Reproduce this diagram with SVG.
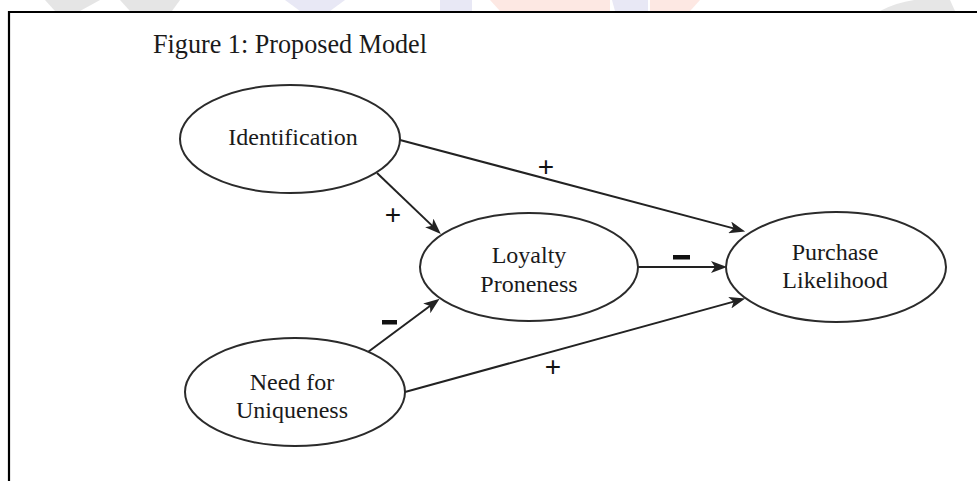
<svg xmlns="http://www.w3.org/2000/svg" width="977" height="481" viewBox="0 0 977 481">
<defs>
<style>
.node ellipse{fill:#fff;stroke:#2b2b2b;stroke-width:2}
.lbl{font-family:"Liberation Serif","Times New Roman",serif;font-size:24px;fill:#1a1a1a;text-anchor:middle}
.conn line{stroke:#222;stroke-width:2;marker-end:url(#ah)}
.sign{font-family:"Liberation Sans",Arial,sans-serif;font-size:28px;fill:#111;text-anchor:middle}
.wm{stroke:none}
</style>
<marker id="ah" viewBox="0 0 16 12" refX="6" refY="6" markerWidth="16" markerHeight="12" markerUnits="userSpaceOnUse" orient="auto">
<path d="M0,0 L16,6 L0,12 L4,6 Z" fill="#222"/>
</marker>
</defs>
<rect x="0" y="0" width="977" height="481" fill="#fff"/>
<g id="watermark" opacity="0.9">
<path class="wm" d="M45,0 L100,0 L80,11 L55,11 Z" fill="#e3e3e3"/>
<path class="wm" d="M120,0 L180,0 L172,11 L130,11 Z" fill="#e3e3e3"/>
<path class="wm" d="M285,0 L345,0 L330,11 L300,11 Z" fill="#e6e6f4"/>
<path class="wm" d="M440,0 L472,0 L472,11 L440,11 Z" fill="#e6e6f4"/>
<path class="wm" d="M490,0 L610,0 L610,11 L500,11 Z" fill="#fde6e0"/>
<path class="wm" d="M612,0 L648,0 L648,11 L615,11 Z" fill="#e6e6f4"/>
<path class="wm" d="M650,0 L700,0 L690,11 L650,11 Z" fill="#fde6e0"/>
<path class="wm" d="M880,11 Q910,-5 950,0 L955,11 Z" fill="#e3e3e3"/>
</g>
<path d="M9,481 L9,12 L977,12" fill="none" stroke="#000" stroke-width="2.2"/>
<text x="153" y="53" font-family="'Liberation Serif','Times New Roman',serif" font-size="28" fill="#1a1a1a" textLength="274" lengthAdjust="spacingAndGlyphs">Figure 1: Proposed Model</text>
<g id="connectors" class="conn">
<line x1="400" y1="140" x2="735.5" y2="228.9"/>
<line x1="377" y1="173" x2="433.6" y2="227.1"/>
<line x1="368" y1="352" x2="431.6" y2="304.8"/>
<line x1="638" y1="267" x2="717" y2="267"/>
<line x1="405" y1="392" x2="735.6" y2="301.1"/>
</g>
<g id="labels">
<text class="sign" x="546" y="176">+</text>
<text class="sign" x="393" y="224">+</text>
<text class="sign" x="553" y="376">+</text>
<rect x="673" y="255" width="17" height="4.5" fill="#111"/>
<rect x="382" y="320" width="15" height="4.5" fill="#111"/>
</g>
<g id="identification" class="node">
<ellipse cx="290" cy="139" rx="110" ry="54"/>
<text class="lbl" x="293" y="145">Identification</text>
</g>
<g id="loyalty-proneness" class="node">
<ellipse cx="529" cy="267" rx="109" ry="54"/>
<text class="lbl" x="529" y="263">Loyalty</text>
<text class="lbl" x="529" y="292">Proneness</text>
</g>
<g id="purchase-likelihood" class="node">
<ellipse cx="836" cy="267" rx="110" ry="55"/>
<text class="lbl" x="835" y="260">Purchase</text>
<text class="lbl" x="835" y="288">Likelihood</text>
</g>
<g id="need-for-uniqueness" class="node">
<ellipse cx="295" cy="392" rx="110" ry="54"/>
<text class="lbl" x="292" y="390">Need for</text>
<text class="lbl" x="292" y="418">Uniqueness</text>
</g>
</svg>
